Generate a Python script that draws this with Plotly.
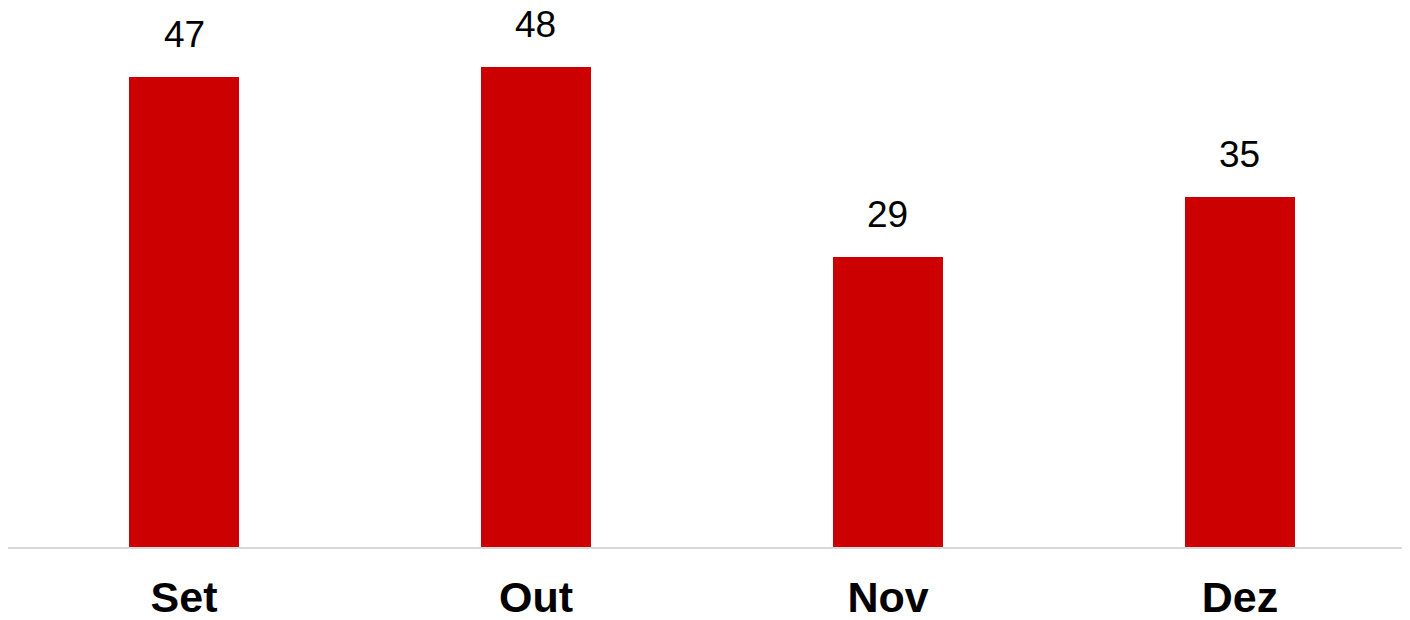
import plotly.graph_objects as go

months = ["Set", "Out", "Nov", "Dez"]
values = [47, 48, 29, 35]

bar_color = "#CC0000"

fig = go.Figure()
fig.add_trace(go.Bar(
    x=months, y=values,
    marker=dict(color=bar_color, line=dict(width=0)),
    hoverinfo="skip",
))

for m, v in zip(months, values):
    fig.add_annotation(
        x=m, y=v, text=str(v), showarrow=False,
        yanchor="bottom", yshift=20,
        font=dict(family="Liberation Sans, Arial, sans-serif", size=37, color="#000000"),
    )

fig.update_layout(
    width=1402, height=612,
    margin=dict(l=0, r=0, t=39, b=73),
    paper_bgcolor="white", plot_bgcolor="white",
    bargap=0.6875,
    showlegend=False,
    font=dict(family="Liberation Sans, Arial, sans-serif"),
    xaxis=dict(
        type="category",
        range=[-0.5, 3.483],
        automargin=False,
        showline=True, linecolor="#D9D9D9", linewidth=2,
        showgrid=False, ticks="",
        tickfont=dict(family="Liberation Sans, Arial, sans-serif", size=43, color="#000000", weight="bold"),
        ticklabelstandoff=11,
    ),
    yaxis=dict(
        range=[0, 50], visible=False, showgrid=False, zeroline=False,
        automargin=False,
    ),
)

fig.write_html("out.html")
